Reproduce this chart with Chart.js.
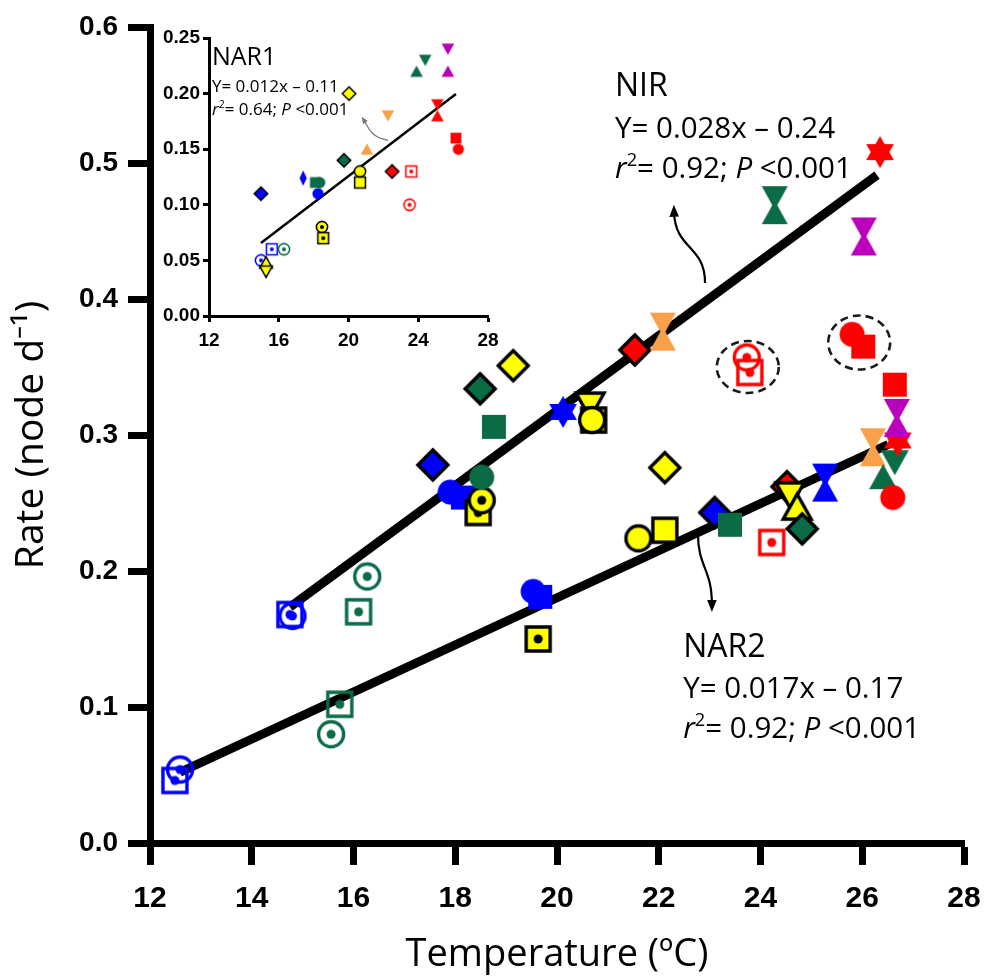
<!DOCTYPE html>
<html>
<head>
<meta charset="utf-8">
<script src="https://cdn.jsdelivr.net/npm/chart.js@4.4.0/dist/chart.umd.min.js"></script>
<style>
  body { margin: 0; background: #fff; }
  #wrap { position: relative; width: 987px; height: 976px; }
  #main { position: absolute; left: 0; top: 0; }
  #inset { position: absolute; left: 150px; top: 20px; }
</style>
</head>
<body>
<div id="wrap">
  <canvas id="main" width="987" height="976"></canvas>
  <canvas id="inset" width="350" height="330"></canvas>
</div>
<script>
'use strict';
// colour codes: b blue, g green, y yellow, r red, o orange, p purple
// shapes: sq, cir, dia, tdia (tall diamond), tri, dtri, bow (hourglass), star, osq / ocir (open with dot)

// NIR (upper cloud, main plot)
const NIR_X = [14.75,14.8,16.1,16.27,17.56,17.9,18.15,18.45,18.52,18.52,18.49,18.76,19.14,20.12,20.65,20.72,20.69,21.53,22.08,23.79,23.73,24.28,26.02,25.8,26.03,26.35];
const NIR_Y = [0.168,0.167,0.170,0.196,0.278,0.258,0.254,0.243,0.252,0.269,0.334,0.306,0.351,0.317,0.322,0.311,0.311,0.3625,0.376,0.346,0.357,0.469,0.365,0.374,0.446,0.508];
const NIR_SHAPE = ['osq','ocir','osq','ocir','dia','cir','sq','osq','ocir','cir','dia','sq','dia','star','dtri','sq','cir','dia','bow','osq','ocir','bow','sq','cir','bow','star'];
const NIR_COLOR = ['b','b','g','g','b','b','b','y','y','g','g','g','y','b','y','y','y','r','o','r','r','g','r','r','p','r'];
const NIR_FIT_X = [14.75, 26.29];
const NIR_FIT_Y = [0.1735, 0.491];

// NAR2 (lower cloud, main plot)
const NAR2_X = [12.49,12.59,15.56,15.73,19.53,19.67,19.63,21.6,22.12,22.12,23.1,23.4,24.22,24.52,24.58,24.72,24.82,25.27,26.21,26.41,26.64,26.7,26.68,26.64,26.6];
const NAR2_Y = [0.046,0.054,0.080,0.102,0.185,0.181,0.150,0.224,0.230,0.276,0.243,0.234,0.221,0.262,0.256,0.247,0.231,0.265,0.291,0.269,0.280,0.296,0.3125,0.337,0.254];
const NAR2_SHAPE = ['osq','ocir','ocir','osq','cir','sq','osq','cir','sq','dia','dia','sq','osq','dia','dtri','tri','dia','bow','bow','tri','dtri','star','bow','sq','cir'];
const NAR2_COLOR = ['b','b','g','g','b','b','y','y','y','y','b','g','r','r','y','y','g','b','o','g','g','r','p','r','r'];
const NAR2_FIT_X = [12.59, 26.51];
const NAR2_FIT_Y = [0.052, 0.293];

// NAR1 (inset)
const NAR1_X = [14.98,14.98,15.6,16.3,15.27,15.27,17.4,18.1,18.35,18.25,18.48,18.55,19.74,20.03,20.66,20.66,21.06,22.26,22.5,23.6,23.5,23.9,24.4,25.1,25.1,25.7,25.7,26.16,26.3];
const NAR1_Y = [0.11,0.05,0.06,0.06,0.048,0.040,0.124,0.12,0.12,0.11,0.08,0.07,0.14,0.20,0.13,0.12,0.15,0.18,0.13,0.13,0.10,0.22,0.23,0.19,0.18,0.24,0.22,0.16,0.15];
const NAR1_SHAPE = ['dia','ocir','osq','ocir','tri','dtri','tdia','sq','cir','cir','ocir','osq','dia','dia','cir','sq','tri','dtri','dia','osq','ocir','tri','dtri','dtri','tri','dtri','tri','sq','cir'];
const NAR1_COLOR = ['b','b','b','g','y','y','b','g','g','b','y','y','g','y','y','y','o','o','r','r','r','g','g','r','r','p','p','r','r'];
const NAR1_FIT_X = [14.98, 26.16];
const NAR1_FIT_Y = [0.0657, 0.1996];

const COLORS = { b: '#0000ff', g: '#0b6b45', y: '#ffff00', r: '#ff0000', o: '#f9a04a', p: '#bb00bb' };

function marker(shape, code, k) {
  const fill = COLORS[code];
  const yel = code === 'y';
  const cv = document.createElement('canvas');
  const size = Math.ceil(44 * k) + 4;
  cv.width = size; cv.height = size;
  const g = cv.getContext('2d');
  g.translate(size / 2, size / 2);
  g.lineWidth = 3.4 * k;
  g.fillStyle = fill;
  g.strokeStyle = '#000';
  const poly = pts => {
    g.beginPath();
    pts.forEach((p, i) => i ? g.lineTo(p[0] * k, p[1] * k) : g.moveTo(p[0] * k, p[1] * k));
    g.closePath();
  };
  const dot = c => { g.beginPath(); g.arc(0, 0, 4.5 * k, 0, Math.PI * 2); g.fillStyle = c; g.fill(); };
  switch (shape) {
    case 'sq': poly([[-12,-12],[12,-12],[12,12],[-12,12]]); g.fill(); if (yel) g.stroke(); break;
    case 'cir': g.beginPath(); g.arc(0, 0, 12.5 * k, 0, Math.PI * 2); g.fill(); if (yel) g.stroke(); break;
    case 'dia': poly([[0,-15],[15,0],[0,15],[-15,0]]); g.fill(); g.stroke(); break;
    case 'tdia': poly([[0,-17],[8,0],[0,17],[-8,0]]); g.fill(); if (yel) g.stroke(); break;
    case 'tri': poly([[0,-13],[14,12],[-14,12]]); g.fill(); if (yel) g.stroke(); break;
    case 'dtri': poly([[0,13],[14,-12],[-14,-12]]); g.fill(); if (yel) g.stroke(); break;
    case 'bow': poly([[-13,-19],[13,-19],[2.5,0],[13,19],[-13,19],[-2.5,0]]); g.fill(); if (yel) g.stroke(); break;
    case 'star': {
      const R = 16;
      const tri = a0 => poly([0, 1, 2].map(i => {
        const a = a0 + i * 2 * Math.PI / 3;
        return [R * Math.cos(a), R * Math.sin(a)];
      }));
      tri(-Math.PI / 2); g.fill();
      tri(Math.PI / 2); g.fill();
      break;
    }
    case 'ocir':
      g.beginPath(); g.arc(0, 0, 12.5 * k, 0, Math.PI * 2);
      if (yel) { g.fill(); g.stroke(); dot('#000'); }
      else { g.strokeStyle = fill; g.stroke(); dot(fill); }
      break;
    case 'osq':
      poly([[-12,-12],[12,-12],[12,12],[-12,12]]);
      if (yel) { g.fill(); g.stroke(); dot('#000'); }
      else { g.strokeStyle = fill; g.stroke(); dot(fill); }
      break;
  }
  return cv;
}

const pts = (xs, ys) => xs.map((x, i) => ({ x: x, y: ys[i] }));

function pointSet(xs, ys, shapes, cols, k) {
  const imgs = shapes.map((s, i) => marker(s, cols[i], k));
  return {
    data: pts(xs, ys),
    showLine: false,
    pointRadius: 5,
    pointStyle: c => imgs[c.dataIndex],
    clip: false,
    order: 1
  };
}

function fitLine(xs, ys, w) {
  return {
    data: pts(xs, ys),
    showLine: true,
    borderColor: '#000',
    borderWidth: w,
    pointRadius: 0,
    order: 2
  };
}

// text runs: r = roman, i = italic, s = superscript
function drawRuns(ctx, x, y, runs, size) {
  let cx = x;
  runs.forEach(r => {
    const sz = r.s ? size * 0.62 : size;
    ctx.font = (r.i ? 'italic ' : '') + sz + 'px "Open Sans", sans-serif';
    ctx.fillText(r.t, cx, r.s ? y - size * 0.3 : y);
    cx += ctx.measureText(r.t).width;
  });
}

const notes = {
  id: 'notes',
  afterDatasetsDraw(chart, args, o) {
    const { ctx } = chart;
    const sx = chart.scales.x, sy = chart.scales.y;
    ctx.save();
    ctx.fillStyle = '#000';
    ctx.textBaseline = 'middle';
    ctx.textAlign = 'left';
    (o.ellipses || []).forEach(e => {
      ctx.beginPath();
      ctx.setLineDash([8, 5]);
      ctx.lineWidth = 2.6;
      ctx.strokeStyle = '#1a1a1a';
      ctx.ellipse(sx.getPixelForValue(e.x), sy.getPixelForValue(e.y), e.rx, e.ry, 0, 0, Math.PI * 2);
      ctx.stroke();
    });
    ctx.setLineDash([]);
    (o.arrows || []).forEach(a => {
      const x0 = sx.getPixelForValue(a.x), y0 = sy.getPixelForValue(a.y);
      const [c1, c2, e] = a.path;
      ctx.strokeStyle = a.color;
      ctx.fillStyle = a.color;
      ctx.lineWidth = a.width;
      ctx.beginPath();
      ctx.moveTo(x0, y0);
      ctx.bezierCurveTo(x0 + c1[0], y0 + c1[1], x0 + c2[0], y0 + c2[1], x0 + e[0], y0 + e[1]);
      ctx.stroke();
      const ang = Math.atan2(e[1] - c2[1], e[0] - c2[0]);
      const hx = x0 + e[0], hy = y0 + e[1], L = a.head;
      const dx = Math.cos(ang), dy = Math.sin(ang);
      ctx.beginPath();
      ctx.moveTo(hx + dx * L * 0.6, hy + dy * L * 0.6);
      ctx.lineTo(hx - dx * L * 0.4 - dy * L * 0.4, hy - dy * L * 0.4 + dx * L * 0.4);
      ctx.lineTo(hx - dx * L * 0.4 + dy * L * 0.4, hy - dy * L * 0.4 - dx * L * 0.4);
      ctx.closePath();
      ctx.fill();
    });
    ctx.fillStyle = '#000';
    (o.texts || []).forEach(b => {
      const x0 = sx.getPixelForValue(b.x), y0 = sy.getPixelForValue(b.y);
      b.lines.forEach(l => drawRuns(ctx, x0, y0 + l.dy, l.runs, l.size));
    });
    ctx.restore();
  }
};

function eqLines(head, eq, r2, big, small, gap1, gap2) {
  return [
    { dy: 0, size: big, runs: [{ t: head }] },
    { dy: gap1, size: small, runs: [{ t: eq }] },
    { dy: gap2, size: small, runs: [{ t: 'r', i: true }, { t: '2', s: true }, { t: '= ' + r2 + '; ' }, { t: 'P', i: true }, { t: ' <0.001' }] }
  ];
}

function axes(o) {
  const tickFont = fs => ({ family: '"Liberation Sans", Arial, sans-serif', weight: 'bold', size: fs });
  const side = (min, max, step, fs, dec, tl, pad, tw, fit, title) => ({
    type: 'linear', min: min, max: max,
    ticks: { stepSize: step, color: '#000', font: tickFont(fs), padding: pad, callback: v => v.toFixed(dec) },
    grid: { drawOnChartArea: false, drawTicks: true, tickLength: tl, tickWidth: tw, tickColor: '#000' },
    border: { display: true, color: '#000', width: tw },
    title: title,
    afterFit: fit
  });
  return {
    // label overflow is already covered by the layout padding, so drop it here
    x: side(12, 28, o.xStep, o.xFont, 0, o.tl, o.xPad, o.tw, s => { s.height = o.xh; s.paddingLeft = 0; s.paddingRight = 0; }, o.xTitle),
    y: side(0, o.yMax, o.yStep, o.yFont, o.yDec, o.tl, o.yPad, o.tw, s => { s.width = o.yw; s.paddingTop = 0; s.paddingBottom = 0; }, o.yTitle)
  };
}

new Chart(document.getElementById('main'), {
  type: 'scatter',
  data: {
    datasets: [
      fitLine(NIR_FIT_X, NIR_FIT_Y, 9),
      fitLine(NAR2_FIT_X, NAR2_FIT_Y, 9),
      pointSet(NIR_X, NIR_Y, NIR_SHAPE, NIR_COLOR, 1),
      pointSet(NAR2_X, NAR2_Y, NAR2_SHAPE, NAR2_COLOR, 1)
    ]
  },
  options: {
    responsive: false,
    animation: false,
    events: [],
    layout: { padding: { top: 27, right: 23, left: 0, bottom: 0 } },
    plugins: {
      legend: { display: false },
      tooltip: { enabled: false },
      notes: {
        ellipses: [{ x: 23.75, y: 0.35, rx: 31, ry: 26 }, { x: 25.94, y: 0.368, rx: 31, ry: 27 }],
        arrows: [
          { x: 22.91, y: 0.4118, path: [[0, -38], [-30, -33], [-31, -71]], color: '#000', width: 2.2, head: 12 },
          { x: 22.77, y: 0.228, path: [[0, 35], [14, 35], [14, 72]], color: '#000', width: 2.2, head: 12 }
        ],
        texts: [
          { x: 21.14, y: 0.556, lines: eqLines('NIR', 'Y= 0.028x \u2013 0.24', '0.92', 32, 29.5, 43, 83) },
          { x: 22.48, y: 0.1434, lines: eqLines('NAR2', 'Y= 0.017x \u2013 0.17', '0.92', 32, 29.5, 42, 82) }
        ]
      }
    },
    scales: axes({
      xStep: 2, xFont: 30, yMax: 0.6, yStep: 0.1, yFont: 28, yDec: 1,
      tl: 22, tw: 7, xPad: 16, yPad: 10, xh: 133, yw: 150,
      xTitle: { display: true, text: 'Temperature (\u00baC)', color: '#000', font: { family: '"Open Sans", sans-serif', size: 38, lineHeight: 1 }, padding: { top: 0, bottom: 2 } },
      yTitle: { display: true, text: 'Rate (node d\u207b\u00b9)', color: '#000', font: { family: '"Open Sans", sans-serif', size: 39, lineHeight: 1 }, padding: { top: 12, bottom: 0 } }
    })
  },
  plugins: [notes]
});

new Chart(document.getElementById('inset'), {
  type: 'scatter',
  data: {
    datasets: [
      fitLine(NAR1_FIT_X, NAR1_FIT_Y, 2.5),
      pointSet(NAR1_X, NAR1_Y, NAR1_SHAPE, NAR1_COLOR, 0.45)
    ]
  },
  options: {
    responsive: false,
    animation: false,
    events: [],
    layout: { padding: { top: 18, right: 12, left: 0, bottom: 0 } },
    plugins: {
      legend: { display: false },
      tooltip: { enabled: false },
      notes: {
        arrows: [{ x: 22.26, y: 0.158, path: [[-18, -3], [-20, -14], [-24, -20]], color: '#777', width: 1.2, head: 7 }],
        texts: [{ x: 12.17, y: 0.232, lines: eqLines('NAR1', 'Y= 0.012x \u2013 0.11', '0.64', 25, 17, 29, 52) }]
      }
    },
    scales: axes({
      xStep: 4, xFont: 19, yMax: 0.25, yStep: 0.05, yFont: 19, yDec: 2,
      tl: 6, tw: 3, xPad: 7, yPad: 3, xh: 34, yw: 59,
      xTitle: { display: false },
      yTitle: { display: false }
    })
  },
  plugins: [notes]
});
</script>
</body>
</html>
